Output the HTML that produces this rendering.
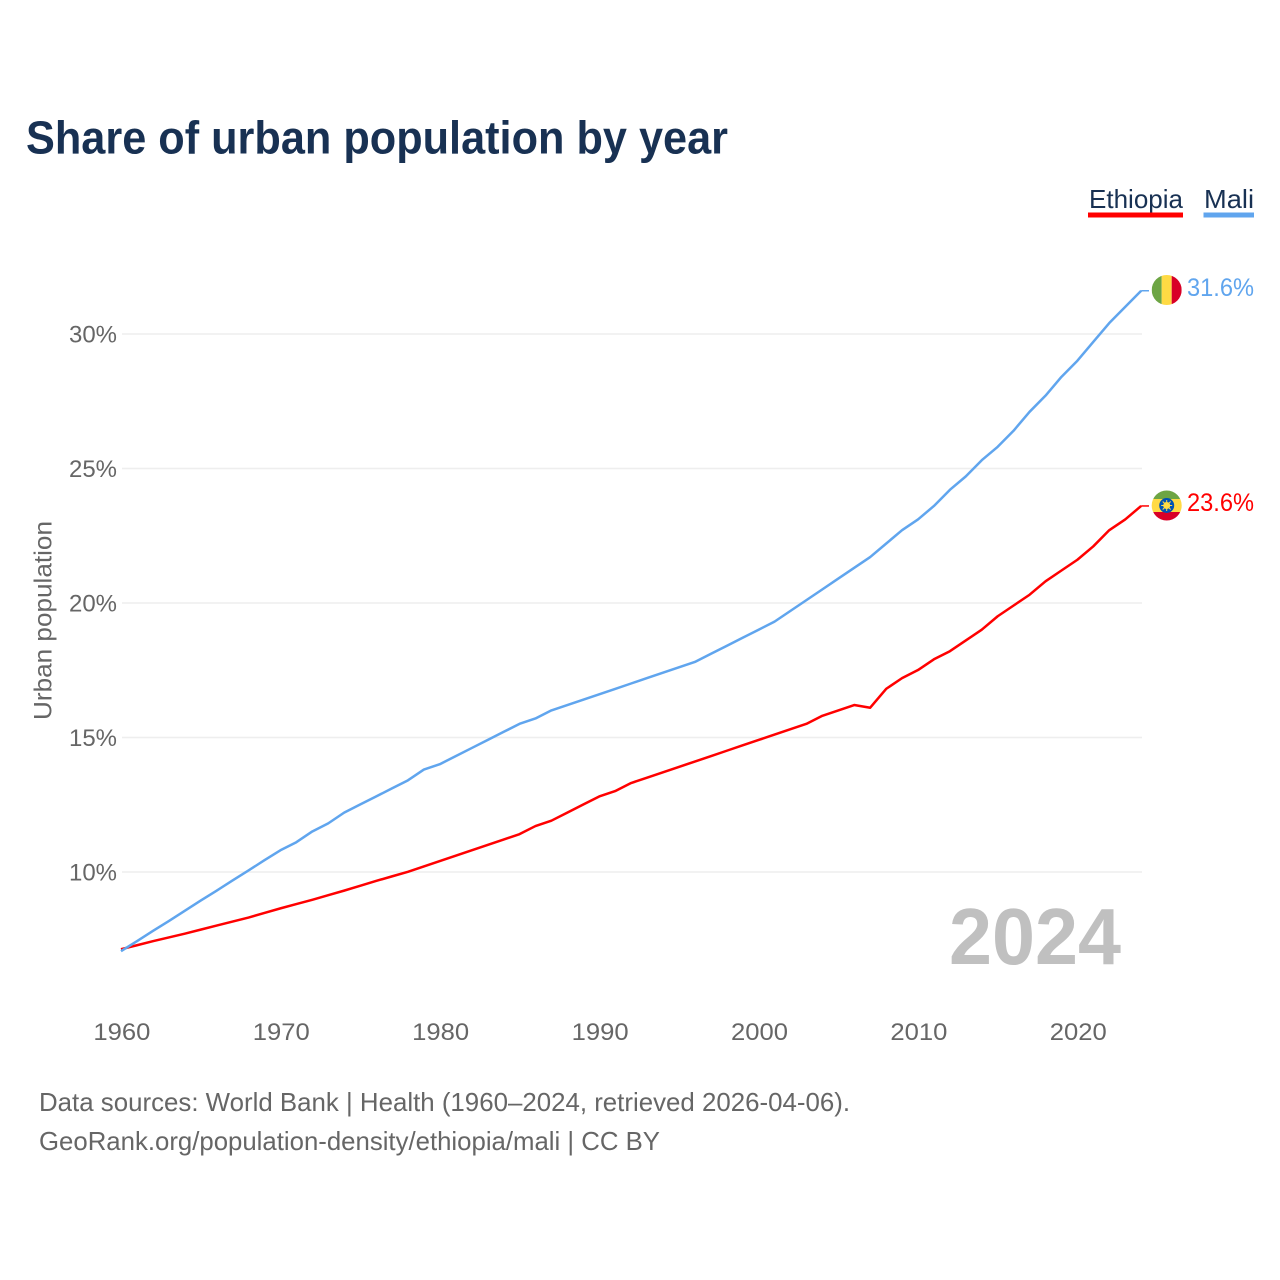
<!DOCTYPE html>
<html lang="en">
<head>
<meta charset="utf-8">
<title>Share of urban population by year</title>
<style>
html,body{margin:0;padding:0;background:#fff;width:1280px;height:1280px;overflow:hidden}
svg{display:block;font-family:"Liberation Sans",sans-serif}
</style>
</head>
<body>
<svg id="chart" xmlns="http://www.w3.org/2000/svg" width="1280" height="1280" viewBox="0 0 1280 1280">
  <defs>
    <clipPath id="clip-mali"><circle cx="1166.700" cy="290" r="15"/></clipPath>
    <clipPath id="clip-eth"><circle cx="1166.700" cy="505.500" r="15"/></clipPath>
  </defs>
  <text x="26" y="153.500" font-size="46" font-weight="700" fill="#183153" textLength="702" lengthAdjust="spacingAndGlyphs">Share of urban population by year</text>

  <g>
    <g>
      <text x="1089" y="208" font-size="26" fill="#183153" textLength="94" lengthAdjust="spacingAndGlyphs">Ethiopia</text>
      <rect x="1088" y="212.500" width="95" height="5" fill="#ff0000"/>
    </g>
    <g>
      <text x="1204" y="208" font-size="26" fill="#183153" textLength="50" lengthAdjust="spacingAndGlyphs">Mali</text>
      <rect x="1203.500" y="212.500" width="50.500" height="5" fill="#60a5ee"/>
    </g>
  </g>

  <g id="grid"></g>
  <g id="yticks"></g>
  <g id="xticks"></g>
  <text transform="translate(51.500,620.500) rotate(-90)" text-anchor="middle" font-size="25" fill="#666666" textLength="199" lengthAdjust="spacingAndGlyphs">Urban population</text>

  <text x="949" y="964" font-size="80" font-weight="700" fill="#c0c0c0" textLength="172" lengthAdjust="spacingAndGlyphs">2024</text>

  <g id="series"></g>

  <g clip-path="url(#clip-mali)">
    <rect x="1151.700" y="275" width="10" height="31" fill="#6da544"/>
    <rect x="1161.700" y="275" width="10" height="31" fill="#ffda44"/>
    <rect x="1171.700" y="275" width="10" height="31" fill="#d80027"/>
  </g>
  <g clip-path="url(#clip-eth)">
    <rect x="1151" y="490" width="31" height="9" fill="#6da544"/>
    <rect x="1151" y="499" width="31" height="13" fill="#ffda44"/>
    <rect x="1151" y="512" width="31" height="9" fill="#d80027"/>
    <circle cx="1166.700" cy="505.500" r="7.500" fill="#0052b4"/>
    <circle cx="1166.700" cy="505.500" r="3.500" fill="#ffda44"/>
    <path d="M1166.700 500v11M1161.200 505.500h11M1162.700 501.500l8 8M1170.700 501.500l-8 8" stroke="#ffda44" stroke-width="1"/>
  </g>

  <g id="end-labels"></g>

  <text x="39" y="1111" font-size="26" fill="#666666" textLength="811" lengthAdjust="spacingAndGlyphs">Data sources: World Bank | Health (1960–2024, retrieved 2026-04-06).</text>
  <text x="39" y="1150" font-size="26" fill="#666666" textLength="621" lengthAdjust="spacingAndGlyphs">GeoRank.org/population-density/ethiopia/mali | CC BY</text>
</svg>
<script>
const years = [1960,1961,1962,1963,1964,1965,1966,1967,1968,1969,1970,1971,1972,1973,1974,1975,1976,1977,1978,1979,1980,1981,1982,1983,1984,1985,1986,1987,1988,1989,1990,1991,1992,1993,1994,1995,1996,1997,1998,1999,2000,2001,2002,2003,2004,2005,2006,2007,2008,2009,2010,2011,2012,2013,2014,2015,2016,2017,2018,2019,2020,2021,2022,2023,2024];
const ethiopiaValues = [7.12,7.27,7.42,7.56,7.7,7.85,8.0,8.15,8.3,8.47,8.64,8.8,8.96,9.13,9.3,9.48,9.66,9.83,10.0,10.2,10.4,10.6,10.8,11.0,11.2,11.4,11.7,11.9,12.2,12.5,12.8,13.0,13.3,13.5,13.7,13.9,14.1,14.3,14.5,14.7,14.9,15.1,15.3,15.5,15.8,16.0,16.2,16.1,16.8,17.2,17.5,17.9,18.2,18.6,19.0,19.5,19.9,20.3,20.8,21.2,21.6,22.1,22.7,23.1,23.6];
const maliValues = [7.05,7.42,7.8,8.17,8.55,8.93,9.3,9.68,10.05,10.43,10.8,11.1,11.5,11.8,12.2,12.5,12.8,13.1,13.4,13.8,14.0,14.3,14.6,14.9,15.2,15.5,15.7,16.0,16.2,16.4,16.6,16.8,17.0,17.2,17.4,17.6,17.8,18.1,18.4,18.7,19.0,19.3,19.7,20.1,20.5,20.9,21.3,21.7,22.2,22.7,23.1,23.6,24.2,24.7,25.3,25.8,26.4,27.1,27.7,28.4,29.0,29.7,30.4,31.0,31.6];
const yTickValues = [10,15,20,25,30];
const yTickLabels = ["10%","15%","20%","25%","30%"];
const xTickValues = [1960,1970,1980,1990,2000,2010,2020];
const xTickLabels = ["1960","1970","1980","1990","2000","2010","2020"];

const NS = 'http://www.w3.org/2000/svg';
function xScale(year){ return 121 + (year - 1960) * 15.94; }
function yScale(v){ return 871.8 - (v - 10) * 26.9; }
function yGrid(v){ return 872 - (v - 10) * 26.9; }
function make(tag, parent, attrs, text){
  const el = document.createElementNS(NS, tag);
  for (const k in attrs) el.setAttribute(k, attrs[k]);
  if (text !== undefined) el.textContent = text;
  parent.appendChild(el);
  return el;
}

const grid = document.getElementById('grid');
const yticks = document.getElementById('yticks');
yTickValues.forEach(function(v, i){
  const gy = yGrid(v);
  const line = make('line', grid, {x1:122, x2:1142, y1:gy, y2:gy, stroke:'#eeeeee', 'stroke-width':1.5});
  
  
  const label = make('text', yticks, {x:69, y:gy+8.3, 'font-size':24.5, fill:'#666666', textLength:48, lengthAdjust:'spacingAndGlyphs'}, yTickLabels[i]);
  
  
});

const xticks = document.getElementById('xticks');
xTickValues.forEach(function(v, i){
  const label = make('text', xticks, {x:xScale(v)-27.6, y:1040, 'font-size':24.5, fill:'#666666', textLength:57, lengthAdjust:'spacingAndGlyphs'}, xTickLabels[i]);
  
  
});

const seriesGroup = document.getElementById('series');
const endLabels = document.getElementById('end-labels');
function drawSeries(values, color, key){
  const pts = values.map(function(v, i){ return xScale(years[i]).toFixed(2) + ',' + yScale(v).toFixed(2); });
  const line = make('polyline', seriesGroup, {points:pts.join(' '), fill:'none', stroke:color, 'stroke-width':2.5, 'stroke-linejoin':'round'});
  
  
  const last = values[values.length - 1];
  const ly = yScale(last);
  const lx = xScale(years[years.length - 1]);
  const conn = make('line', seriesGroup, {x1:lx, x2:1149, y1:ly, y2:ly, stroke:color, 'stroke-width':1.5});
  
  
  const label = make('text', endLabels, {x:1187, y:ly+5, 'font-size':25, fill:color, textLength:67, lengthAdjust:'spacingAndGlyphs'}, last.toFixed(1) + '%');
  
  
}
drawSeries(ethiopiaValues, '#ff0000', 'ethiopia');
drawSeries(maliValues, '#60a5ee', 'mali');
</script>
</body>
</html>
